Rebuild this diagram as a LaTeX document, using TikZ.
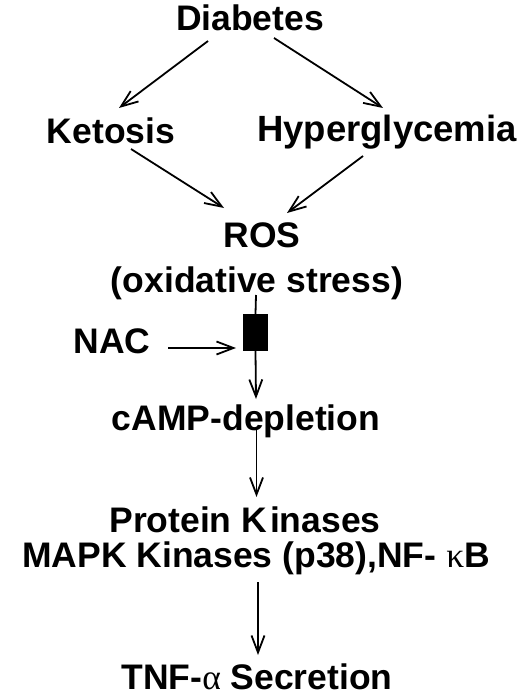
\documentclass[tikz,border=0pt]{standalone}
\usepackage{fontspec}
\setmainfont{Liberation Sans}
\newfontfamily\grk{Liberation Serif}
\usetikzlibrary{arrows.meta}
\begin{document}
\begin{tikzpicture}[x=1pt,y=-1pt,
  lbl/.style={font=\fontsize{35.5}{40}\selectfont\bfseries, inner sep=0pt, anchor=base},
  arr/.style={line width=1.8pt, -{Straight Barb[length=17pt,width=13pt,line width=1.8pt]}},
  ln/.style={line width=1.8pt}]
\fill[white] (0,0) rectangle (520,698);
\useasboundingbox (0,0) rectangle (520,698);
\node[lbl] (diab) at (250,31) {Diabetes};
\node[lbl] (ket) at (111,143) {Ketosis};
\node[lbl, font=\fontsize{36.5}{40}\selectfont\bfseries] (hyp) at (387,141) {Hyperglycemia};
\node[lbl] (ros) at (262,247) {ROS};
\node[lbl] (ox) at (257,292) {(oxidative stress)};
\node[lbl] (nac) at (112,353) {NAC};
\node[fill=black, minimum width=25pt, minimum height=37pt, inner sep=0pt] (blk) at (255.5,332.5) {};
\node[lbl] (camp) at (246,430) {cAMP-depletion};
\node[lbl] (pk) at (245,532) {Protein K\kern3pt inases};
\node[lbl] (mapk) at (256,567) {MAPK Kinases (p38),NF- {\grk\mdseries κ}B};
\node[lbl, text depth=0pt] (tnf) at (257,689) {TNF-{\grk\mdseries α} Secretion};
% connector end points
\coordinate (d1) at (208,41);  \coordinate (k1) at (119,108);
\coordinate (d2) at (274,38);  \coordinate (h1) at (383,108);
\coordinate (k2) at (131,149); \coordinate (r1) at (224,208);
\coordinate (h2) at (363,156); \coordinate (r2) at (287,213);
\coordinate (o1) at (256,295);
\coordinate (n1) at (168,348); \coordinate (b1) at (236,348);
\coordinate (c0) at (256,399);
\coordinate (c1) at (256.5,428); \coordinate (p0) at (256.5,497);
\coordinate (m1) at (258,582); \coordinate (t0) at (258,655);
\draw[arr] (d1) -- (k1);
\draw[arr] (d2) -- (h1);
\draw[arr] (k2) -- (r1);
\draw[arr] (h2) -- (r2);
\draw[ln] (o1) -- (blk.north);
\draw[arr] (n1) -- (b1);
\draw[arr] (blk.south) -- (c0);
\draw[arr] (c1) -- (p0);
\draw[arr] (m1) -- (t0);
\end{tikzpicture}
\end{document}
